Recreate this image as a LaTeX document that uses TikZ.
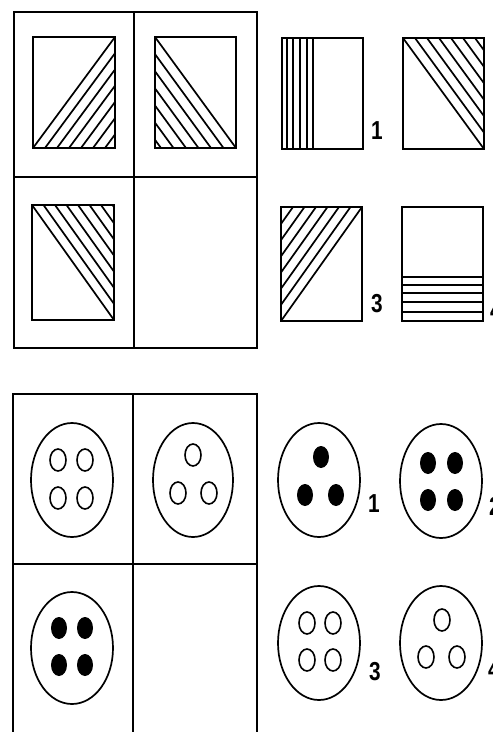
\documentclass[tikz,border=0pt]{standalone}
\usepackage{fontspec}
\setmainfont{Liberation Sans}
\newfontfamily\lblfont[FakeStretch=0.8]{Liberation Sans}
\begin{document}
\begin{tikzpicture}[x=1pt,y=-1pt,
  frame/.style={line width=2pt},
  box/.style={line width=2pt},
  hatch/.style={line width=1.7pt},
  oval/.style={line width=1.7pt},
  hole/.style={line width=1.6pt},
  dot/.style={fill=black},
  lbl/.style={font=\lblfont\bfseries\fontsize{26}{26}\selectfont, inner sep=0pt}]
\useasboundingbox (0,0) rectangle (493,732);
% ---------- top grid ----------
\draw[frame] (14,12) rectangle (257,348);
\draw[frame] (134,12) -- (134,348);
\draw[frame] (14,177) -- (257,177);
% cell 1: lower-right triangle hatched
\begin{scope}
  \clip (33,37) rectangle (115,148);
  \foreach \k in {1,...,7} \draw[hatch] (33+\k*12,148) -- ++(82,-111);
\end{scope}
\draw[hatch] (33,148) -- (115,37);
\draw[box] (33,37) rectangle (115,148);
% cell 2: lower-left triangle hatched
\begin{scope}
  \clip (155,37) rectangle (236,148);
  \foreach \k in {1,...,7} \draw[hatch] (155-\k*12.5,37) -- ++(81,111);
\end{scope}
\draw[hatch] (155,37) -- (236,148);
\draw[box] (155,37) rectangle (236,148);
% cell 3: upper-right triangle hatched
\begin{scope}
  \clip (32,205) rectangle (114,320);
  \foreach \k in {1,...,7} \draw[hatch] (32+\k*11.5,205) -- ++(82,115);
\end{scope}
\draw[hatch] (32,205) -- (114,320);
\draw[box] (32,205) rectangle (114,320);
% ---------- top options ----------
% option 1: vertical stripes at left
\foreach \x in {287,293,300,307,313} \draw[hatch] (\x,38) -- (\x,149);
\draw[box] (282,38) rectangle (363,149);
\node[lbl] (t1) at (377,131) {1};
% option 2: upper-right triangle hatched
\begin{scope}
  \clip (403,38) rectangle (484,149);
  \foreach \k in {1,...,7} \draw[hatch] (403+\k*12,38) -- ++(81,111);
\end{scope}
\draw[hatch] (403,38) -- (484,149);
\draw[box] (403,38) rectangle (484,149);
% option 3: upper-left triangle hatched
\begin{scope}
  \clip (281,207) rectangle (362,321);
  \foreach \k in {1,...,7} \draw[hatch] (281-\k*11.5,321) -- ++(81,-114);
\end{scope}
\draw[hatch] (281,321) -- (362,207);
\draw[box] (281,207) rectangle (362,321);
\node[lbl] (t3) at (377,304) {3};
% option 4: horizontal stripes at bottom
\foreach \y in {277,285,293,302,312} \draw[hatch] (402,\y) -- (483,\y);
\draw[box] (402,207) rectangle (483,321);
\node[lbl, anchor=west] (t4) at (490,311) {4};
% ---------- bottom grid ----------
\draw[frame] (13,732) -- (13,394) -- (257,394) -- (257,732);
\draw[frame] (133,394) -- (133,732);
\draw[frame] (13,564) -- (257,564);
% cell 1: four open holes
\draw[oval] (72,480) ellipse [x radius=41, y radius=57];
\foreach \p in {(58,460),(85,460),(58,498),(85,498)}
  \draw[hole] \p ellipse [x radius=8, y radius=11];
% cell 2: three open holes
\draw[oval] (193,480) ellipse [x radius=40, y radius=57];
\foreach \p in {(193,455),(178,493),(209,493)}
  \draw[hole] \p ellipse [x radius=8, y radius=11];
% cell 3: four filled dots
\draw[oval] (72,648) ellipse [x radius=41, y radius=56];
\foreach \p in {(59,628),(85,628),(59,665),(85,665)}
  \fill[dot] \p ellipse [x radius=8, y radius=11];
% ---------- bottom options ----------
\draw[oval] (319,480) ellipse [x radius=41, y radius=57];
\foreach \p in {(321,457),(305,495),(336,495)}
  \fill[dot] \p ellipse [x radius=8, y radius=11];
\node[lbl] (b1) at (374,504) {1};
\draw[oval] (441,481) ellipse [x radius=41, y radius=57];
\foreach \p in {(428,463),(455,463),(428,500),(455,500)}
  \fill[dot] \p ellipse [x radius=8, y radius=11];
\node[lbl, anchor=west] (b2) at (489,506) {2};
\draw[oval] (319,643) ellipse [x radius=41, y radius=57];
\foreach \p in {(307,623),(333,623),(307,660),(333,660)}
  \draw[hole] \p ellipse [x radius=8, y radius=11];
\node[lbl] (b3) at (375,672) {3};
\draw[oval] (441,643) ellipse [x radius=41, y radius=57];
\foreach \p in {(442,620),(426,657),(457,657)}
  \draw[hole] \p ellipse [x radius=8, y radius=11];
\node[lbl, anchor=west] (b4) at (488,670) {4};
\end{tikzpicture}
\end{document}
